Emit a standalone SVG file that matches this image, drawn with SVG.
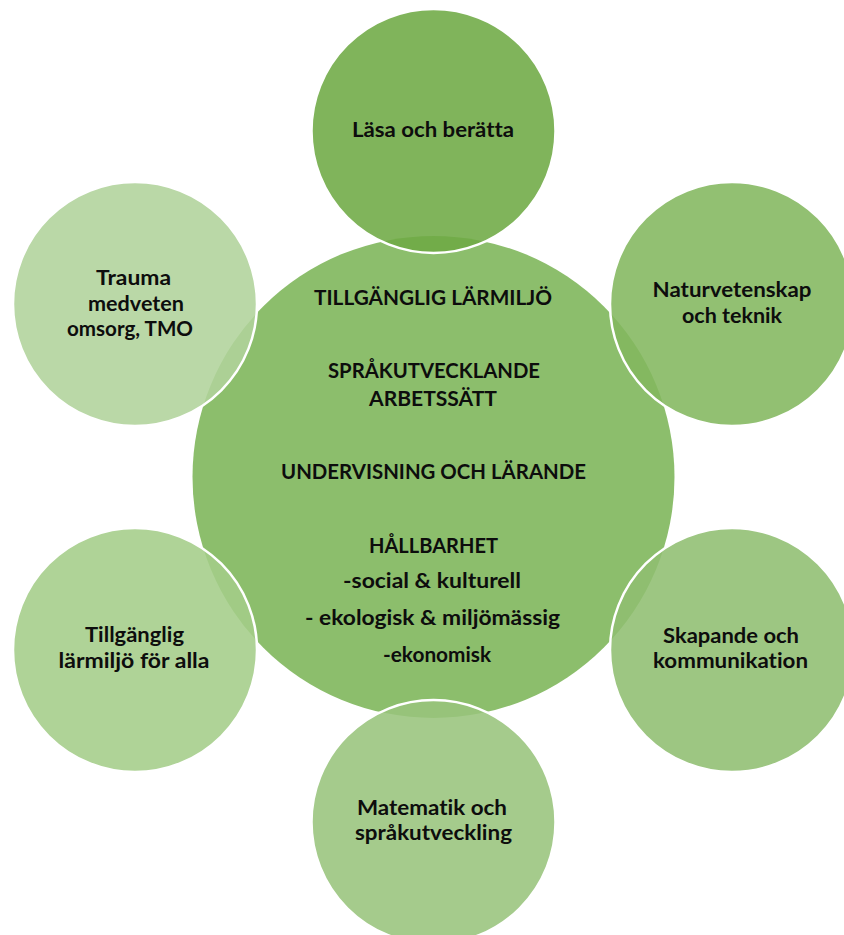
<svg xmlns="http://www.w3.org/2000/svg" width="844" height="935" viewBox="0 0 844 935">
<style>
.c{stroke:#ffffff;stroke-width:2.5}
.o{fill-opacity:0.88}
text{font-family:Lato,"Open Sans","Liberation Sans",sans-serif;font-weight:bold;font-size:21px;fill:#0d0d0d;text-anchor:middle;font-variant-ligatures:none}
</style>
<rect width="844" height="935" fill="#ffffff"/>
<g id="center">
<circle cx="433.5" cy="477" r="241" fill="#8cbe6c"/>
<text x="433" y="305" textLength="238" lengthAdjust="spacingAndGlyphs">TILLGÄNGLIG LÄRMILJÖ</text>
<text x="434" y="378" textLength="212" lengthAdjust="spacingAndGlyphs">SPRÅKUTVECKLANDE</text>
<text x="433" y="406" textLength="128" lengthAdjust="spacingAndGlyphs">ARBETSSÄTT</text>
<text x="433.5" y="479" textLength="305" lengthAdjust="spacingAndGlyphs">UNDERVISNING OCH LÄRANDE</text>
<text x="433.5" y="553" textLength="129" lengthAdjust="spacingAndGlyphs">HÅLLBARHET</text>
<text x="432" y="588" textLength="178" lengthAdjust="spacingAndGlyphs">-social &amp; kulturell</text>
<text x="432.5" y="625" textLength="255" lengthAdjust="spacingAndGlyphs">- ekologisk &amp; miljömässig</text>
<text x="437" y="662" textLength="108" lengthAdjust="spacingAndGlyphs">-ekonomisk</text>
</g>
<g id="top">
<circle class="c o" cx="433.5" cy="131" r="122" fill="#6eaa44"/>
<text x="433" y="137" textLength="162" lengthAdjust="spacingAndGlyphs">Läsa och berätta</text>
</g>
<g id="top-right">
<circle class="c o" cx="732" cy="304" r="122" fill="#83b75e"/>
<text x="732" y="297" textLength="159" lengthAdjust="spacingAndGlyphs">Naturvetenskap</text>
<text x="732" y="323" textLength="100" lengthAdjust="spacingAndGlyphs">och teknik</text>
</g>
<g id="bottom-right">
<circle class="c o" cx="732" cy="650" r="122" fill="#90be71"/>
<text x="731" y="643" textLength="136" lengthAdjust="spacingAndGlyphs">Skapande och</text>
<text x="730.5" y="668" textLength="155" lengthAdjust="spacingAndGlyphs">kommunikation</text>
</g>
<g id="bottom">
<circle class="c o" cx="433.5" cy="822" r="122" fill="#99c47c"/>
<text x="432" y="815" textLength="150" lengthAdjust="spacingAndGlyphs">Matematik och</text>
<text x="433.5" y="840" textLength="157" lengthAdjust="spacingAndGlyphs">språkutveckling</text>
</g>
<g id="bottom-left">
<circle class="c o" cx="135" cy="650" r="122" fill="#a4cd89"/>
<text x="134.5" y="642" textLength="99" lengthAdjust="spacingAndGlyphs">Tillgänglig</text>
<text x="134" y="668" textLength="151" lengthAdjust="spacingAndGlyphs">lärmiljö för alla</text>
</g>
<g id="top-left">
<circle class="c o" cx="135" cy="304" r="122" fill="#b0d39b"/>
<text x="133.5" y="285" textLength="75" lengthAdjust="spacingAndGlyphs">Trauma</text>
<text x="136" y="311" textLength="96" lengthAdjust="spacingAndGlyphs">medveten</text>
<text x="130" y="336" textLength="126" lengthAdjust="spacingAndGlyphs">omsorg, TMO</text>
</g>
<g id="connectors"/>
</svg>
